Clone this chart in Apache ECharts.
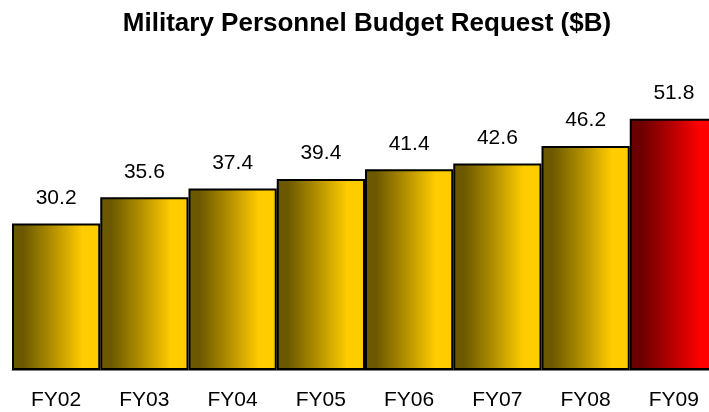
<!DOCTYPE html>
<html><head><meta charset="utf-8">
<script src="https://cdn.jsdelivr.net/npm/echarts@6/dist/echarts.min.js"></script>
<style>html,body{margin:0;padding:0;background:#fff}#c{width:709px;height:412px}</style>
</head><body><div id="c"></div>
<script>
const categories = ['FY02','FY03','FY04','FY05','FY06','FY07','FY08','FY09'];
const values = [30.2, 35.6, 37.4, 39.4, 41.4, 42.6, 46.2, 51.8];
const highlightIndex = 7;

function grad(dark, mid, light) {
  return new echarts.graphic.LinearGradient(0, 0, 1, 0, [
    {offset: 0, color: dark},
    {offset: 0.12, color: dark},
    {offset: 0.45, color: mid},
    {offset: 0.8, color: light},
    {offset: 1, color: light}
  ]);
}
const gold = grad('#6b5800', '#b08e00', '#ffcc00');
const red = grad('#6b0000', '#b00000', '#ff0000');

const chart = echarts.init(document.getElementById('c'));
chart.setOption({
  animation: false,
  title: {
    text: 'Military Personnel Budget Request ($B)',
    left: 362, top: 6, textAlign: 'center',
    textStyle: {fontFamily: 'Liberation Sans, Arial', fontWeight: 'bold', fontSize: 26, color: '#000'}
  },
  grid: {left: 12, width: 706, top: 79, height: 291, outerBoundsMode: 'none', containLabel: false},
  xAxis: {
    type: 'category', data: categories,
    axisLine: {lineStyle: {color: '#808080', width: 1}},
    axisTick: {show: false},
    axisLabel: {fontFamily: 'Liberation Sans, Arial', fontSize: 21, color: '#000', margin: 20}
  },
  yAxis: {
    type: 'value', min: 0, max: 60, show: false,
    splitLine: {show: false}
  },
  series: [{
    type: 'bar',
    barCategoryGap: '0%',
    data: values.map((v, i) => ({
      value: v,
      itemStyle: {color: i === highlightIndex ? red : gold}
    })),
    itemStyle: {borderColor: '#000', borderWidth: 2},
    label: {
      show: true, position: 'top', distance: 15,
      fontFamily: 'Liberation Sans, Arial', fontSize: 21, color: '#000'
    }
  }]
});
</script></body></html>
